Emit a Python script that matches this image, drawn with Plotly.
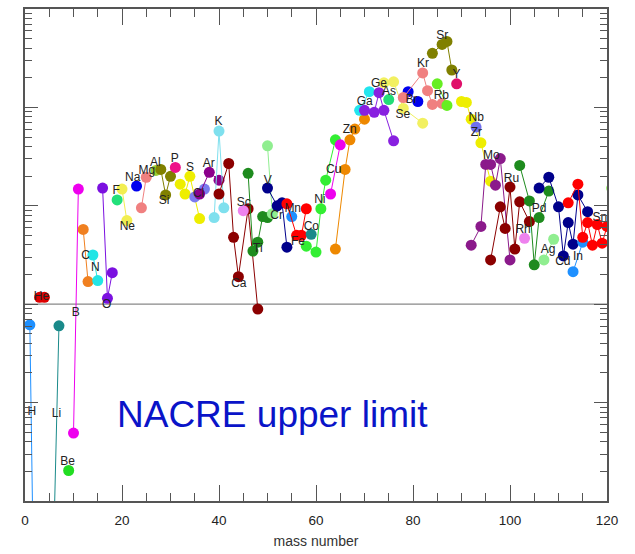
import numpy as np
import plotly.graph_objects as go

# ---- data: log10 of rate ratio per isotope, grouped by element ----
elements = ["H", "He", "Li", "Be", "B", "C", "N", "O", "F", "Ne", "Na", "Mg", "Al", "Si", "P",
            "S", "Cl", "Ar", "K", "Ca", "Sc", "Ti", "V", "Cr", "Mn", "Fe", "Co", "Ni", "Cu", "Zn",
            "Ga", "Ge", "As", "Se", "Br", "Kr", "Rb", "Sr", "Y", "Zr", "Nb", "Mo", "Ru", "Rh",
            "Pd", "Ag", "Cd", "In", "Sn", "Sb"]

masses = [
    [1, 2], [3, 4], [6, 7], [9], [10, 11], [12, 13], [14, 15], [16, 17, 18], [19], [20, 21],
    [23], [24, 25], [27], [28, 29, 30], [31], [32, 33, 34, 36], [35, 37], [36, 38, 40],
    [39, 40, 41], [40, 42, 43, 44, 46, 48], [45], [46, 47, 48, 49, 50], [50, 51],
    [50, 52, 53, 54], [55], [54, 56, 57, 58], [59], [58, 60, 61, 62, 64], [63, 65],
    [64, 66, 67, 68, 70], [69, 71], [70, 72, 73, 74, 76], [75], [74, 76, 78, 82], [79, 81],
    [78, 82, 83, 84, 86], [85, 87], [84, 86, 87, 88], [89], [90, 91, 92, 94, 96], [93],
    [92, 94, 95, 96, 97, 98, 100], [96, 98, 99, 100, 101, 102, 104], [103],
    [102, 104, 105, 106, 108], [107, 109], [106, 108, 110, 111, 112, 113, 114, 116],
    [113, 115], [112, 114, 115, 116, 117, 118, 119, 120], [121],
]

log_ratio = [
    [-0.21, -3.6], [0.07, 0.07], [-2.25, -0.22], [-1.69], [-1.31, 1.17], [0.76, 0.23],
    [0.50, 0.24], [1.18, 0.06, 0.32], [1.06], [1.17, 0.85], [1.20], [0.98, 1.29], [1.36],
    [1.37, 1.11, 1.30], [1.39], [1.22, 1.12, 1.30, 0.87], [1.09, 1.17], [1.12, 1.34, 1.26],
    [0.88, 1.76, 0.98], [1.12, 1.43, 0.68, 0.28, 0.97, -0.05], [0.95],
    [1.33, 0.54, 0.63, 0.89, 0.88], [1.61, 0.92], [1.18, 1.00, 1.03, 0.58], [0.89],
    [1.02, 0.70, 0.70, 0.97], [0.71], [0.59, 0.53, 0.97, 1.26, 1.67], [1.12, 1.62],
    [0.56, 1.37, 1.67, 1.78, 1.88], [1.97, 2.16], [1.97, 1.95, 2.15, 1.97, 1.66], [2.08],
    [2.25, 2.26, 1.99, 1.84], [2.16, 2.06], [2.10, 2.35, 2.17, 2.03, 2.04], [2.24, 2.02],
    [2.55, 2.64, 2.67, 2.38], [2.24], [2.06, 2.05, 1.88, 1.64, 1.25], [1.80],
    [0.60, 0.79, 1.42, 1.42, 1.21, 1.48, 0.45], [0.45, 0.99, 0.77, 1.19, 0.56, 1.04, 0.84],
    [0.67], [1.41, 1.05, 0.40, 0.88, 1.15], [0.45, 0.66],
    [1.18, 1.29, 0.99, 0.49, 0.83, 0.61, 1.11, 0.94], [0.33, 0.63],
    [1.03, 1.22, 0.68, 0.83, 0.60, 0.81, 0.62, 0.79], [1.18],
]

# element symbol label anchor (mass number, log10 ratio)
label_mass = [1.4, 3.4, 6.5, 8.8, 10.45, 12.5, 14.5, 16.85, 18.8, 21.1, 22.2, 25.1, 26.9, 28.7,
              30.9, 34.0, 35.8, 37.9, 39.9, 44.1, 45.1, 48.0, 50.05, 51.9, 55.2, 56.3, 59.05,
              60.8, 63.65, 66.95, 70.05, 73.0, 75.05, 77.9, 79.7, 82.05, 85.85, 86.05, 88.95,
              93.05, 93.05, 96.15, 100.3, 102.7, 106.0, 107.85, 110.9, 114.0, 118.5, 121]
label_logratio = [-1.10, 0.07, -1.12, -1.60, -0.09, 0.49, 0.37, -0.01, 1.15, 0.78, 1.28, 1.35,
                  1.43, 1.05, 1.48, 1.38, 1.12, 1.42, 1.85, 0.21, 1.03, 0.56, 1.25, 0.90, 0.97,
                  0.63, 0.78, 1.06, 1.36, 1.77, 2.06, 2.24, 2.16, 1.92, 2.08, 2.44, 2.12, 2.73,
                  2.33, 1.74, 1.89, 1.51, 1.27, 0.75, 0.97, 0.55, 0.43, 0.48, 0.88, None]

x_ticks = [0, 20, 40, 60, 80, 100, 120]

# ---- styles ----
colors = ["#1E90FF", "#DD0000", "#1A8A8A", "#22DD22", "#EE00EE", "#F08020", "#22E5E5",
          "#7B10E0", "#22E07A", "#F2EE50", "#0000EE", "#F08080", "#9ACD32", "#808000",
          "#EE1289", "#EEEE00", "#7B7BEE", "#8B008B", "#7FE0EE", "#8B0000", "#EE82EE",
          "#1E8B1E", "#90EE90", "#00008B", "#1E90FF", "#FF0000", "#1A8A8A", "#33EE33",
          "#EE00EE", "#EE8800", "#22E5EE", "#8820E0", "#22DD77", "#F2F060", "#0000EE",
          "#F08080", "#66EE22", "#808000", "#E0106A", "#EEEE00", "#7070EE", "#8B1A8B",
          "#8B0000", "#EE82EE", "#1E8B1E", "#90EE90", "#00008B", "#1E90FF", "#FF0000",
          "#66EE22"]

FONT = "Liberation Sans, Arial, Helvetica, sans-serif"
AXC = "#555555"

fig = go.Figure()

# reference line at ratio = 1
fig.add_trace(go.Scatter(x=[0, 120], y=[1, 1], mode="lines",
                         line=dict(color="#888888", width=1.2), hoverinfo="skip",
                         showlegend=False))

for name, m, v, c in zip(elements, masses, log_ratio, colors):
    fig.add_trace(go.Scatter(
        x=m, y=[10 ** val for val in v], mode="lines+markers", name=name,
        line=dict(color=c, width=1),
        marker=dict(color=c, size=11, line=dict(width=0)),
        showlegend=False))

lx = [x for x, y in zip(label_mass, label_logratio) if y is not None]
ly = [10 ** y for y in label_logratio if y is not None]
lt = [e for e, y in zip(elements, label_logratio) if y is not None]
fig.add_trace(go.Scatter(x=lx, y=ly, mode="text", text=lt,
                         textfont=dict(family=FONT, size=12, color="#222222"),
                         showlegend=False, hoverinfo="skip"))

major_y = [10.0 ** k for k in range(-2, 4)]
minor_y = [j * 10.0 ** k for k in range(-2, 3) for j in range(2, 10)]

fig.update_layout(
    width=635, height=554,
    margin=dict(l=25, r=28, t=7, b=52),
    plot_bgcolor="white", paper_bgcolor="white",
    font=dict(family=FONT, color="#222222"),
    xaxis=dict(range=[0, 120], showgrid=False, zeroline=False,
               showline=True, linecolor=AXC, linewidth=1.5, mirror="ticks",
               ticks="inside", tickvals=x_ticks, ticklen=16, tickwidth=1.2, tickcolor=AXC,
               minor=dict(dtick=5, tick0=0, ticks="inside", ticklen=8, tickwidth=1.2,
                          tickcolor=AXC, showgrid=False),
               tickfont=dict(size=13.5, color="#222222"),
               ticklabelstandoff=6,
               title=dict(text="mass number", font=dict(size=14, color="#333333"),
                          standoff=9)),
    yaxis=dict(type="log", range=[-2, 3], showgrid=False, zeroline=False,
               showline=True, linecolor=AXC, linewidth=1.5, mirror="ticks",
               ticks="inside", tickvals=major_y, ticklen=13, tickwidth=1.2, tickcolor=AXC,
               showticklabels=False,
               minor=dict(tickvals=minor_y, ticks="inside", ticklen=7, tickwidth=1.2,
                          tickcolor=AXC, showgrid=False)),
    annotations=[dict(text="NACRE upper limit", xref="paper", yref="paper",
                      x=0.426, y=0.176, xanchor="center", yanchor="middle",
                      showarrow=False,
                      font=dict(family=FONT, size=37, color="#0A14C8"))],
)

fig.write_html("out.html")
